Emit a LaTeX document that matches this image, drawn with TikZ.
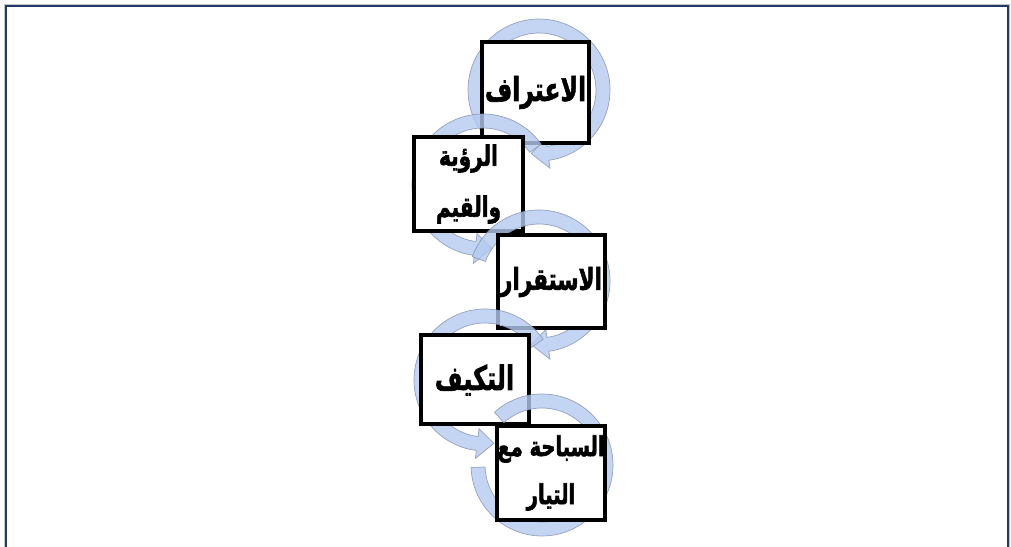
\documentclass[tikz,border=0pt]{standalone}
\usepackage{graphicx}
\usepackage{fontspec}
\TeXXeTstate=1
\newfontfamily\arabicfont[Script=Arabic]{DejaVu Sans}
\usetikzlibrary{shadows}
\definecolor{framenavy}{RGB}{31,58,104}
\definecolor{ringfill}{RGB}{180,202,240}
\definecolor{ringline}{RGB}{135,150,178}
\tikzset{
  ring/.style={fill=ringfill, draw=ringline, line width=0.7pt, fill opacity=0.8, draw opacity=0.85},
  boxnode/.style={draw=black, line width=4pt, fill=white, inner sep=0pt, align=center,
    drop shadow={opacity=0.25, shadow xshift=2pt, shadow yshift=-2pt}},
  artfont/.style 2 args={font=\arabicfont\bfseries\fontsize{#1}{#2}\selectfont},
}
\newcommand{\artext}[1]{\special{pdf:code 2 Tr 0.45 w}\scalebox{1}[1.4]{\beginR #1\endR}\special{pdf:code 0 Tr}}
% ring with arrowhead: #1 centre, #2 start angle, #3 base angle, #4 tip angle
\newcommand{\ringarrow}[4]{%
  \path[ring] ([shift={(#2:71pt)}]#1) arc[start angle=#2, end angle=#3, radius=71pt]
    -- ([shift={(#3:79pt)}]#1) -- ([shift={(#4:64pt)}]#1) -- ([shift={(#3:49pt)}]#1)
    -- ([shift={(#3:57pt)}]#1) arc[start angle=#3, end angle=#2, radius=57pt] -- cycle;}
% plain ring arc: #1 centre, #2 start, #3 end
\newcommand{\ringplain}[3]{%
  \path[ring] ([shift={(#2:71pt)}]#1) arc[start angle=#2, end angle=#3, radius=71pt]
    -- ([shift={(#3:57pt)}]#1) arc[start angle=#3, end angle=#2, radius=57pt] -- cycle;}
\begin{document}
\begin{tikzpicture}[x=1pt,y=1pt]
\useasboundingbox (0,0) rectangle (1011,546);
\clip (0,0) rectangle (1011,546);
% frame
\draw[gray!45, line width=1pt] (4.3,-20) rectangle (1009.7,541.7);
\draw[framenavy, line width=2.5pt] (6,-20) rectangle (1008,540);
% ring centres
\coordinate (c1) at (539,456);
\coordinate (c2) at (483,361);
\coordinate (c3) at (539,265);
\coordinate (c4) at (485,166);
\coordinate (c5) at (542,81);
% ring 1 and box 1
\ringarrow{c1}{215}{-82}{-97}
\node[boxnode, minimum width=107pt, minimum height=101pt, artfont={23.5}{28}] (b1) at (535.5,453.5) {\artext{الاعتراف}};
% ring 2 and box 2
\ringarrow{c2}{35}{263}{278}
\node[boxnode, minimum width=109pt, minimum height=94pt, artfont={20}{51}] (b2) at (468.5,362) {\artext{الرؤية}\\\artext{والقيم}};
% ring 3 and box 3
\ringarrow{c3}{160}{-82}{-97}
\node[boxnode, minimum width=107pt, minimum height=93pt, artfont={21.5}{28}] (b3) at (551,264) {\artext{الاستقرار}};
% ring 4 and box 4
\ringarrow{c4}{35}{263}{278}
\node[boxnode, minimum width=108pt, minimum height=89pt, artfont={24}{28}] (b4) at (474.5,166) {\artext{التكيف}};
% ring 5 and box 5
\ringplain{c5}{182}{492}
\node[boxnode, minimum width=107pt, minimum height=93pt, artfont={19.5}{48}] (b5) at (551,73) {\artext{السباحة مع}\\\artext{التيار}};
\end{tikzpicture}
\end{document}
